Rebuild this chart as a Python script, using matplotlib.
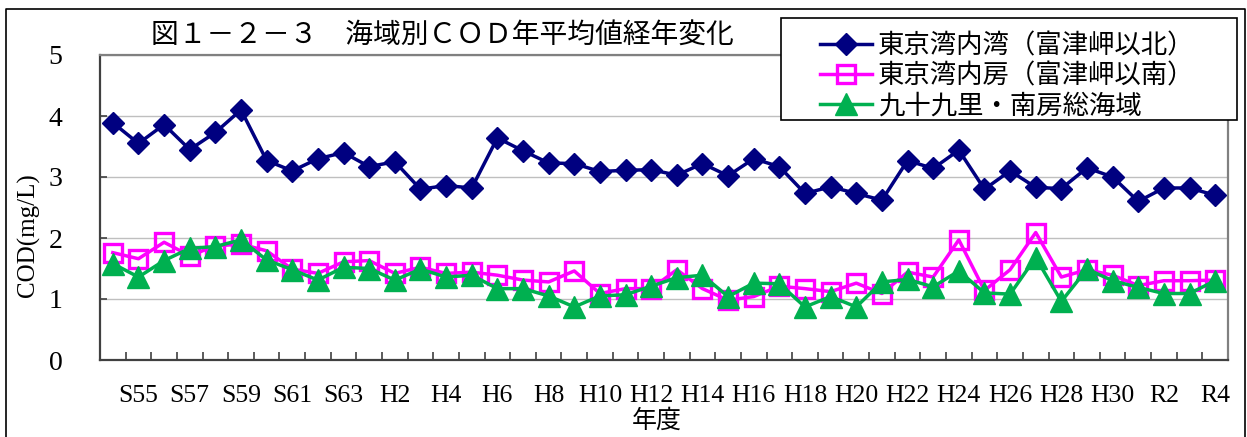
import numpy as np
import matplotlib.pyplot as plt
from matplotlib.patches import Rectangle
from matplotlib.lines import Line2D

# 年度 S54 .. R4
years = ["S54", "S55", "S56", "S57", "S58", "S59", "S60", "S61", "S62", "S63",
         "H1", "H2", "H3", "H4", "H5", "H6", "H7", "H8", "H9", "H10",
         "H11", "H12", "H13", "H14", "H15", "H16", "H17", "H18", "H19", "H20",
         "H21", "H22", "H23", "H24", "H25", "H26", "H27", "H28", "H29", "H30",
         "R1", "R2", "R3", "R4"]

# 東京湾内湾（富津岬以北）
naiwan = [3.89, 3.55, 3.86, 3.45, 3.73, 4.10, 3.27, 3.10, 3.30, 3.40,
          3.17, 3.25, 2.80, 2.86, 2.82, 3.64, 3.43, 3.23, 3.22, 3.09,
          3.11, 3.12, 3.03, 3.22, 3.02, 3.30, 3.17, 2.73, 2.84, 2.73,
          2.62, 3.27, 3.14, 3.44, 2.80, 3.10, 2.83, 2.81, 3.15, 3.00,
          2.60, 2.82, 2.82, 2.70]

# 東京湾内房（富津岬以南）
uchibo = [1.76, 1.66, 1.93, 1.71, 1.87, 1.90, 1.79, 1.49, 1.42, 1.61,
          1.63, 1.42, 1.52, 1.42, 1.44, 1.39, 1.31, 1.28, 1.46, 1.09,
          1.17, 1.17, 1.48, 1.17, 0.98, 1.04, 1.21, 1.17, 1.12, 1.26,
          1.09, 1.44, 1.36, 1.97, 1.14, 1.48, 2.09, 1.36, 1.48, 1.39,
          1.22, 1.30, 1.30, 1.31]

# 九十九里・南房総海域
kujukuri = [1.58, 1.36, 1.63, 1.83, 1.86, 1.97, 1.64, 1.48, 1.31, 1.52,
            1.50, 1.31, 1.49, 1.36, 1.39, 1.17, 1.17, 1.05, 0.87, 1.05,
            1.07, 1.21, 1.35, 1.39, 1.04, 1.26, 1.25, 0.87, 1.04, 0.87,
            1.28, 1.32, 1.20, 1.46, 1.10, 1.08, 1.68, 0.96, 1.49, 1.30,
            1.19, 1.09, 1.09, 1.30]

labels = ["東京湾内湾（富津岬以北）", "東京湾内房（富津岬以南）", "九十九里・南房総海域"]

W, H = 1247, 437
fig = plt.figure(figsize=(W / 100, H / 100), dpi=100)
ax = fig.add_axes([100 / W, (H - 360) / H, (1228 - 100) / W, (360 - 55) / H])

jp = ['Noto Sans CJK JP', 'DejaVu Sans']
serif = 'Liberation Serif'

x = np.arange(len(years))
ax.plot(x, naiwan, color='#000080', lw=2.5, marker='D', ms=11,
        label=labels[0], zorder=3)
ax.plot(x, uchibo, color='#FF00FF', lw=2.5, marker='s', ms=12.5,
        mfc='none', mew=2.4, label=labels[1], zorder=4)
ax.plot(x, kujukuri, color='#00B050', lw=2.5, marker='^', ms=15.5,
        label=labels[2], zorder=5)

ax.set_xlim(-0.5, len(years) - 0.5)
ax.set_ylim(0, 5)
ax.set_yticks(range(6))
ax.yaxis.grid(True, color='#BFBFBF', lw=1)
ax.set_axisbelow(True)

# x labels every 2 years, tick marks between categories
lab_idx = list(range(1, len(years), 2))
ax.set_xticks(lab_idx)
ax.set_xticklabels([years[i] for i in lab_idx])
ax.set_xticks(np.arange(0.5, len(years) - 1, 1), minor=True)
ax.tick_params(axis='x', which='major', length=0, pad=18, labelsize=18.5)
ax.tick_params(axis='x', which='minor', direction='in', length=6,
               width=1.2, color='#404040')
ax.tick_params(axis='y', direction='in', length=5, width=1.2,
               color='#404040', pad=27, labelsize=20)
for t in ax.get_xticklabels() + ax.get_yticklabels():
    t.set_fontfamily(serif)

ax.spines['left'].set_color('#404040')
ax.spines['bottom'].set_color('#404040')
ax.spines['top'].set_color('#808080')
ax.spines['right'].set_color('#808080')
for s in ax.spines.values():
    s.set_linewidth(1.6)

fig.text(657 / W, 1 - 421 / H, "年度", family=jp, fontsize=18,
         ha='center', va='center')
fig.text(28 / W, 1 - 235 / H, "COD(mg/L)", family=serif, fontsize=18,
         rotation=90, ha='center', va='center')
fig.text(442 / W, 1 - 35 / H, "図１－２－３　海域別ＣＯＤ年平均値経年変化",
         family=jp, fontsize=20, ha='center', va='center')

# outer chart border
fig.add_artist(Line2D([6 / W, 6 / W, 1245 / W, 1245 / W],
                      [0, 1 - 9 / H, 1 - 9 / H, 0], color='black', lw=1.2))

# legend box
fig.add_artist(Rectangle((781 / W, 1 - 120 / H), (1237 - 781) / W, (120 - 18) / H,
                         transform=fig.transFigure, facecolor='white',
                         edgecolor='black', lw=1.2, zorder=4))
leg = fig.legend(loc='upper left', bbox_to_anchor=(807 / W, 1 - 19 / H),
                 frameon=False, borderpad=0, prop={'family': jp, 'size': 19},
                 handlelength=1.95, handletextpad=0.25, labelspacing=0.12)
leg.set_zorder(6)

fig.savefig('out.png', dpi=100)
